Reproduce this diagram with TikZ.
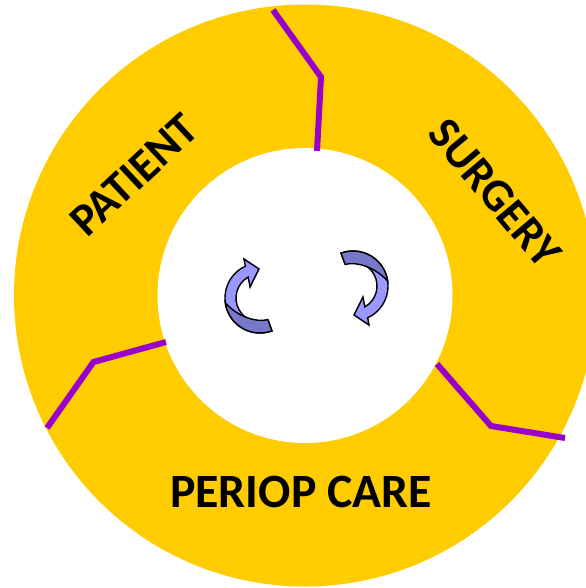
\documentclass[tikz,border=0pt]{standalone}
\usepackage{fontspec}
\setmainfont{Carlito}
\definecolor{ringyellow}{HTML}{FFCC00}
\definecolor{divpurple}{HTML}{9900CC}
\definecolor{arrlight}{HTML}{9999FF}
\definecolor{arrdark}{HTML}{7777CC}
\newcommand\spinarrow{%
  \filldraw[arrowface, fill=arrlight] (70:35) arc[start angle=70, end angle=245.2, radius=35]
    -- (-16,-39) -- (-1,-29) -- (-10,-11) -- (240.5:24)
    arc[start angle=240.5, end angle=70, radius=24] -- cycle;
  \filldraw[arrowface, fill=arrdark] (70:35) arc[start angle=70, end angle=172, radius=35]
    .. controls (140:29) and (100:25) .. (70:23) -- cycle;
}
\begin{document}
\begin{tikzpicture}[x=1bp, y=-1bp,
  divider/.style={draw=divpurple, line width=6bp, line join=miter},
  arrowface/.style={draw=black, line width=1.4bp, line join=miter},
  ringlabel/.style={font=\bfseries\fontsize{46}{50}\selectfont, text=black, inner sep=0pt}]
\clip (0,0) rectangle (586,588);
\fill[ringyellow] (305,295.5) circle[radius=291bp];
\fill[white] (305,295.5) circle[radius=147.5bp];
% dividers
\coordinate (t1) at (273,10);
\coordinate (t2) at (321,77);
\coordinate (t3) at (317,151);
\coordinate (l1) at (166,342);
\coordinate (l2) at (93.5,362);
\coordinate (l3) at (47,428);
\coordinate (r1) at (437,364);
\coordinate (r2) at (491,426);
\coordinate (r3) at (565,438);
\draw[divider] (t1) -- (t2) -- (t3);
\draw[divider] (l1) -- (l2) -- (l3);
\draw[divider] (r1) -- (r2) -- (r3);
% labels
\node[ringlabel, rotate=43] (patient) at (134,175) {PATIENT};
\node[ringlabel, rotate=-50] (surgery) at (495,193) {SURGERY};
\node[ringlabel, font=\bfseries\fontsize{48}{52}\selectfont] (periop) at (301,492) {PERIOP CARE};
% cycle arrows
\begin{scope}[shift={(260,298)}]
  \spinarrow
\end{scope}
\begin{scope}[shift={(353,286)}, rotate=180]
  \spinarrow
\end{scope}
\end{tikzpicture}
\end{document}
